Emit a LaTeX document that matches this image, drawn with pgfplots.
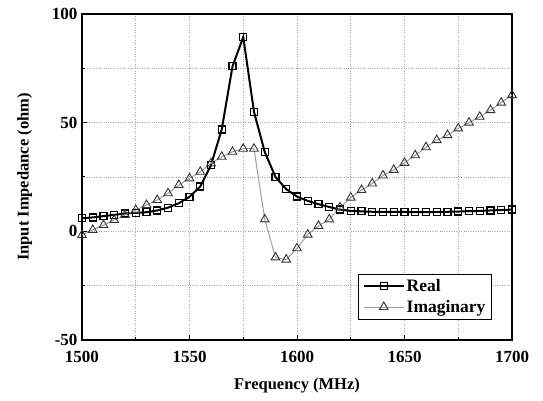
\documentclass[border=0pt]{standalone}
\usepackage{fontspec}
\setmainfont{Liberation Serif}
\usepackage{pgfplots}
\pgfplotsset{compat=1.18}
\usetikzlibrary{calc}

\begin{document}
\begin{tikzpicture}
\begin{axis}[name=ax,scale only axis,width=430pt,height=326pt,
 xmin=1500,xmax=1700,ymin=-50,ymax=100,
 xtick={1500,1550,...,1700},ytick={-50,0,50,100},
 minor xtick={1525,1575,...,1675},minor ytick={-25,25,75},
 xtick pos=bottom,ytick pos=left,tick align=inside,
 major tick length=5pt,minor tick length=3pt,
 tick style={black,line width=1pt},
 grid=both,grid style={gray!70,dotted,line width=0.6pt},
 axis line style={line width=1.6pt},
 /pgf/number format/assume math mode=true,
 /pgf/number format/set thousands separator={},
 tick label style={font=\fontsize{17}{19}\selectfont\bfseries},
 xticklabel style={yshift=-8pt},
 yticklabel style={xshift=-1pt},
 xlabel={Frequency (MHz)},ylabel={Input Impedance (ohm)},
 label style={font=\fontsize{16.5}{18}\selectfont\bfseries},
 xlabel style={yshift=-8pt},ylabel style={yshift=13pt},
 legend style={at={(0.953,0.064)},anchor=south east,draw=black,line width=0.6pt,
  font=\fontsize{17.5}{19}\selectfont\bfseries,row sep=3pt,inner xsep=4pt,inner ysep=3pt},
 legend cell align=left,
 legend image code/.code={\draw[#1] (0pt,0pt)--(40pt,0pt); \draw[#1,only marks] plot coordinates {(20pt,0pt)};},
 clip=false]
\coordinate (ll) at (rel axis cs:0,0);
\coordinate (ur) at (rel axis cs:1,1);
\addplot[black,line width=2pt,mark=square,mark size=3.5pt,mark options={solid,line width=1.2pt,fill=white}]
 coordinates {(1500,6.0)(1505,6.4)(1510,7.0)(1515,7.6)(1520,8.2)(1525,8.5)(1530,8.8)(1535,9.6)
 (1540,10.9)(1545,12.9)(1550,15.9)(1555,20.6)(1560,30.5)(1565,46.9)(1570,75.9)(1575,89.4)
 (1580,55.0)(1585,36.5)(1590,25.0)(1595,19.4)(1600,16.0)(1605,14.0)(1610,12.5)(1615,11.2)
 (1620,10.0)(1625,9.4)(1630,9.2)(1635,9.0)(1640,8.9)(1645,8.9)(1650,8.9)(1655,8.8)(1660,8.8)
 (1665,8.9)(1670,9.0)(1675,9.1)(1680,9.3)(1685,9.4)(1690,9.6)(1695,9.8)(1700,10.0)};
\addlegendentry{Real}
\addplot[gray!75,line width=1pt,mark=triangle,mark size=5pt,mark options={solid,draw=gray!40!black,line width=0.9pt,fill=white}]
 coordinates {(1500,-1.7)(1505,0.6)(1510,2.9)(1515,5.2)(1520,7.5)(1525,9.8)(1530,12.1)(1535,14.4)
 (1540,17.5)(1545,21.3)(1550,24.4)(1555,27.4)(1560,31.3)(1565,34.3)(1570,36.6)(1575,38.0)
 (1580,38.0)(1585,5.5)(1590,-12.0)(1595,-13.0)(1600,-7.8)(1605,-1.5)(1610,2.5)(1615,5.5)
 (1620,11.0)(1625,15.5)(1630,19.0)(1635,22.0)(1640,25.7)(1645,28.3)(1650,31.5)(1655,35.0)
 (1660,38.7)(1665,42.0)(1670,44.3)(1675,47.4)(1680,50.0)(1685,52.7)(1690,55.8)(1695,59.2)(1700,62.7)};
\addlegendentry{Imaginary}
\end{axis}
\pgfresetboundingbox
\path ($(ll)+(-82pt,-61pt)$) rectangle ($(ur)+(31pt,14pt)$);
\end{tikzpicture}
\end{document}
